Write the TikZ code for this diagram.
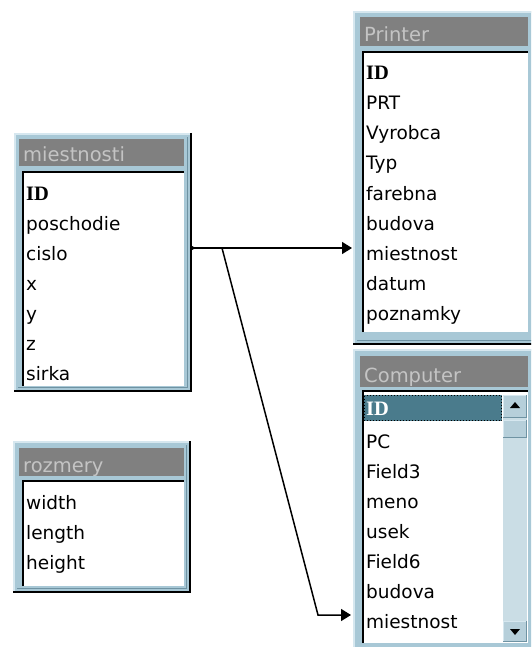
\documentclass[tikz,border=0pt]{standalone}
\usepackage{fontspec}
\setmainfont{DejaVu Sans}
\newfontfamily\keyfont{Liberation Serif}
\usetikzlibrary{arrows.meta}
\definecolor{winframe}{HTML}{A8C8D6}
\definecolor{framelight}{HTML}{D6E7EF}
\definecolor{frameshade}{HTML}{6F93A3}
\definecolor{captionbar}{HTML}{808080}
\definecolor{captext}{HTML}{C4C4C4}
\definecolor{selrow}{HTML}{4A7B8C}
\definecolor{scrolltrack}{HTML}{CADDE5}
\definecolor{scrollface}{HTML}{B6CFDA}
\begin{document}
\begin{tikzpicture}[x=1pt, y=-1pt,
  field/.style={anchor=base west, inner sep=0pt, font=\fontsize{18.5}{20}\selectfont},
  keyfield/.style={field, font=\keyfont\bfseries\fontsize{20.5}{22}\selectfont},
  caption/.style={anchor=base west, inner sep=0pt, text=captext, font=\fontsize{19.5}{21}\selectfont},
  rel/.style={line width=1.5pt, -{Triangle[length=10pt,width=12pt]}}]
\useasboundingbox (0,0) rectangle (531,647);
\clip (0,0) rectangle (531,647);
\fill[white] (0,0) rectangle (531,647);
\begin{scope}[shift={(14,133)}]
\fill[winframe] (0,0) rectangle (178,259);
\draw[framelight, line width=2] (1,259) -- (1,1) -- (178,1);
\draw[frameshade, line width=1] (4,254.5) -- (173.5,254.5) -- (173.5,4);
\draw[black, line width=2] (177,0) -- (177,258) -- (0,258);
\fill[captionbar] (5,6) rectangle (170,33);
\node[caption] (mie-title) at (9,29) {miestnosti};
\fill[white] (8,38) rectangle (170,253);
\draw[black, line width=2] (9,253) -- (9,39) -- (170,39);
\node[keyfield] (mie-id) at (12,67.5) {ID};
\node[field] (mie-poschodie) at (12,97.5) {poschodie};
\node[field] (mie-cislo) at (12,127.5) {cislo};
\node[field] (mie-x) at (12,157.5) {x};
\node[field] (mie-y) at (12,187.5) {y};
\node[field] (mie-z) at (12,217.5) {z};
\node[field] (mie-sirka) at (12,247.5) {sirka};
\end{scope}
\begin{scope}[shift={(13,441)}]
\fill[winframe] (0,0) rectangle (178,152);
\draw[framelight, line width=2] (1,152) -- (1,1) -- (178,1);
\draw[frameshade, line width=1] (4,147.5) -- (173.5,147.5) -- (173.5,4);
\draw[black, line width=2] (177,0) -- (177,151) -- (0,151);
\fill[captionbar] (6,7) rectangle (171,35);
\node[caption] (roz-title) at (10,31) {rozmery};
\fill[white] (9,39) rectangle (171,145);
\draw[black, line width=2] (10,145) -- (10,40) -- (171,40);
\node[field] (roz-width) at (13,68.5) {width};
\node[field] (roz-length) at (13,98.5) {length};
\node[field] (roz-height) at (13,128.5) {height};
\end{scope}
\begin{scope}[shift={(353,11)}]
\fill[winframe] (0,0) rectangle (182,334);
\draw[framelight, line width=2] (1,334) -- (1,1) -- (182,1);
\draw[frameshade, line width=1] (4,329.5) -- (182,329.5);
\draw[black, line width=2] (0,333) -- (182,333);
\fill[captionbar] (7,6) rectangle (175,35);
\node[caption] (prt-title) at (11,31) {Printer};
\fill[white] (9,40) rectangle (175,321);
\draw[black, line width=2] (10,321) -- (10,41) -- (175,41);
\node[keyfield] (prt-id) at (13,69) {ID};
\node[field] (prt-prt) at (13,99) {PRT};
\node[field] (prt-vyrobca) at (13,129) {Vyrobca};
\node[field] (prt-typ) at (13,159) {Typ};
\node[field] (prt-farebna) at (13,189) {farebna};
\node[field] (prt-budova) at (13,219) {budova};
\node[field] (prt-miestnost) at (13,249) {miestnost};
\node[field] (prt-datum) at (13,279) {datum};
\node[field] (prt-poznamky) at (13,309) {poznamky};
\end{scope}
\begin{scope}[shift={(353,349)}]
\fill[winframe] (0,0) rectangle (182,310);
\draw[framelight, line width=2] (1,310) -- (1,1) -- (182,1);
\fill[captionbar] (7,7) rectangle (175,38);
\node[caption] (cmp-title) at (11,33) {Computer};
\fill[white] (9,41) rectangle (175,294);
\draw[black, line width=2] (10,294) -- (10,42) -- (175,42);
\fill[scrolltrack] (150,46) rectangle (174,293);
\fill[scrollface] (150,46) rectangle (174,69);
\draw[framelight] (150.5,69) -- (150.5,46.5) -- (174,46.5);
\draw[frameshade] (150,68.5) -- (173.5,68.5) -- (173.5,46);
\fill (162,53) -- (167,59) -- (157,59) -- cycle;
\fill[scrollface] (150,71) rectangle (174,89);
\draw[framelight] (150.5,89) -- (150.5,71.5) -- (174,71.5);
\draw[frameshade] (150,88.5) -- (173.5,88.5) -- (173.5,71);
\fill[scrollface] (150,272) rectangle (174,293);
\draw[framelight] (150.5,293) -- (150.5,272.5) -- (174,272.5);
\draw[frameshade] (150,292.5) -- (173.5,292.5) -- (173.5,272);
\fill (162,286) -- (167,280) -- (157,280) -- cycle;
\fill[selrow] (11,46) rectangle (149,72);
\draw[black, dotted, line width=1] (11.5,46.5) rectangle (148.5,71.5);
\node[keyfield, text=white] (cmp-id) at (13,66) {ID};
\node[field] (cmp-pc) at (13,99.5) {PC};
\node[field] (cmp-field3) at (13,129.5) {Field3};
\node[field] (cmp-meno) at (13,159.5) {meno};
\node[field] (cmp-usek) at (13,189.5) {usek};
\node[field] (cmp-field6) at (13,219.5) {Field6};
\node[field] (cmp-budova) at (13,249.5) {budova};
\node[field] (cmp-miestnost) at (13,279.5) {miestnost};
\end{scope}
\coordinate (mie-rel) at (192,248);
\coordinate (split) at (222,248);
\coordinate (knee) at (318,615);
\coordinate (prt-rel) at (352,248);
\coordinate (cmp-rel) at (351,615);
\fill (mie-rel) circle (2);
\draw[rel] (mie-rel) -- (prt-rel);
\draw[rel] (split) -- (knee) -- (cmp-rel);
\end{tikzpicture}
\end{document}
